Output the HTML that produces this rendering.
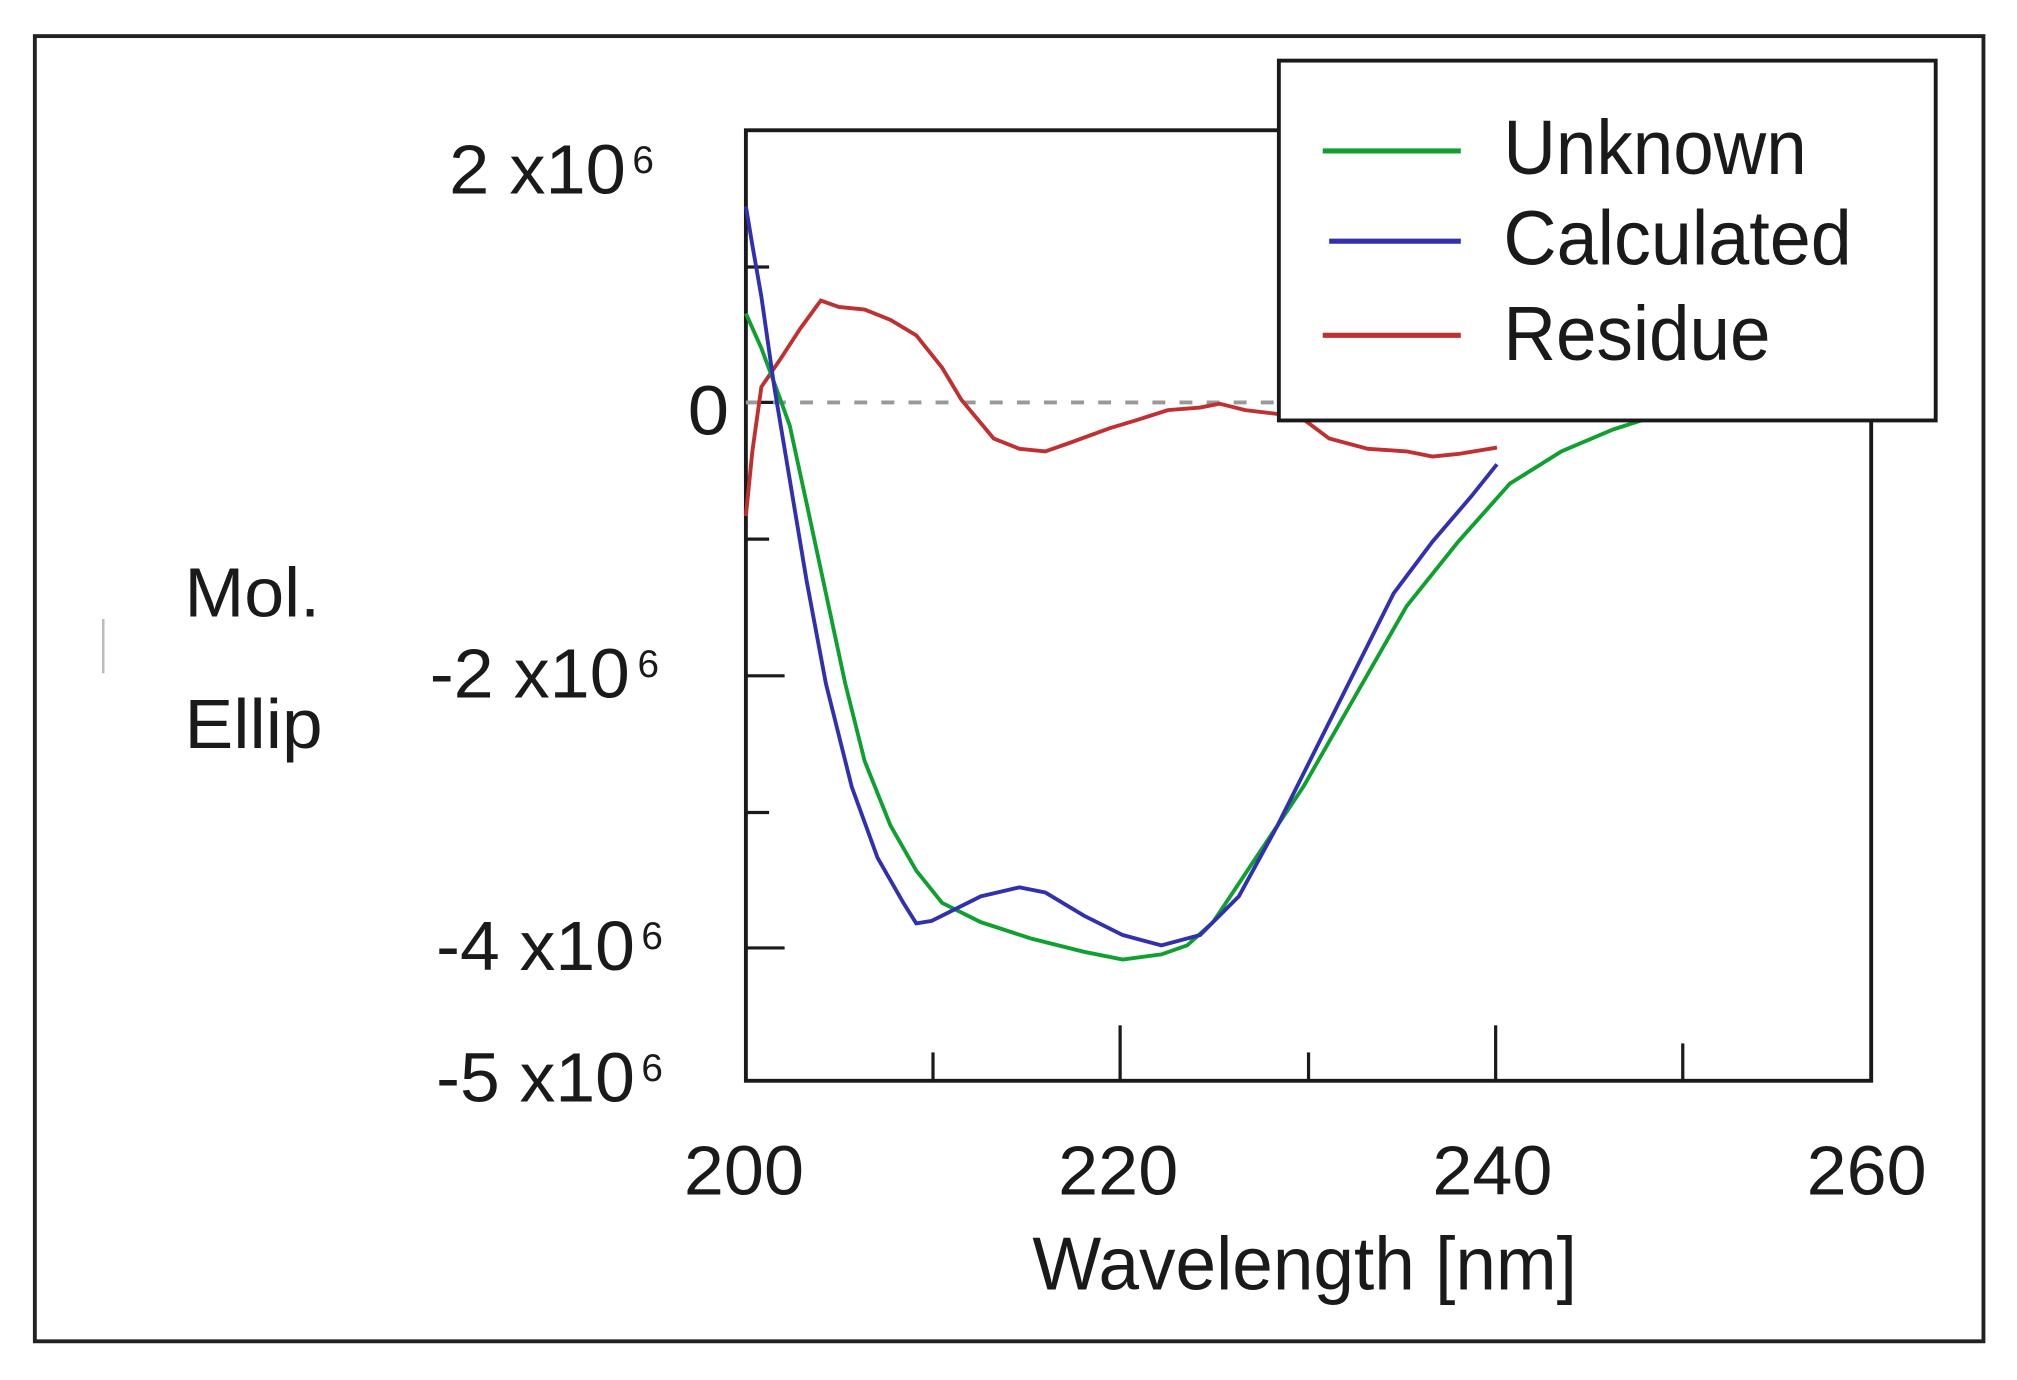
<!DOCTYPE html>
<html><head><meta charset="utf-8"><style>
html,body{margin:0;padding:0;background:#fff;}
svg{display:block;}
text{font-family:"Liberation Sans",Arial,sans-serif;fill:#1a1a1a;}
</style></head><body>
<svg width="2017" height="1380" viewBox="0 0 1563 1070" preserveAspectRatio="none" xmlns="http://www.w3.org/2000/svg">
<rect x="0" y="0" width="1563" height="1070" fill="#fff"/>
<rect x="27" y="28" width="1510" height="1012" fill="none" stroke="#222" stroke-width="3"/>
<line x1="80" y1="480" x2="80" y2="522" stroke="#bbb" stroke-width="2"/>
<rect x="578" y="101" width="872" height="737" fill="none" stroke="#1a1a1a" stroke-width="3"/>
<g stroke="#1a1a1a" stroke-width="2.5">
<line x1="578" y1="207" x2="596" y2="207"/>
<line x1="578" y1="312" x2="608" y2="312"/>
<line x1="578" y1="418" x2="596" y2="418"/>
<line x1="578" y1="524" x2="608" y2="524"/>
<line x1="578" y1="630" x2="596" y2="630"/>
<line x1="578" y1="735" x2="608" y2="735"/>
<line x1="723" y1="838" x2="723" y2="816"/>
<line x1="868" y1="838" x2="868" y2="795"/>
<line x1="1014" y1="838" x2="1014" y2="816"/>
<line x1="1159" y1="838" x2="1159" y2="795"/>
<line x1="1304" y1="838" x2="1304" y2="809"/>
</g>
<line x1="578" y1="312" x2="991" y2="312" stroke="#999" stroke-width="3" stroke-dasharray="10,11"/>
<polyline fill="none" stroke="#c03030" stroke-width="3" points="578,400 583,350 590,300 605,278 620,255 636,233 650,238 670,240 690,248 710,260 730,285 745,310 770,340 790,348 810,350 830,343 860,332 880,326 905,318 930,316 945,313 965,318 990,321 1010,325 1030,340 1060,348 1090,350 1110,354 1130,352 1160,347"/>
<polyline fill="none" stroke="#10a030" stroke-width="3" points="578,243 590,270 603,305 612,330 625,390 640,460 655,530 670,590 690,640 710,675 730,700 760,715 800,728 840,738 870,744 900,740 920,733 940,715 970,670 1010,610 1050,540 1090,470 1130,420 1170,375 1210,350 1250,333 1275,325"/>
<polyline fill="none" stroke="#3030b0" stroke-width="3" points="578,160 583,190 590,230 600,300 610,360 625,450 640,530 660,610 680,665 700,700 710,716 722,714 740,705 760,695 790,688 810,692 840,710 870,725 900,733 930,725 960,695 990,640 1020,580 1050,520 1080,460 1110,420 1140,385 1160,360"/>
<rect x="991" y="47" width="509" height="279" fill="#fff" stroke="#1a1a1a" stroke-width="3"/>
<line x1="1025" y1="117" x2="1132" y2="117" stroke="#10a030" stroke-width="4"/>
<line x1="1030" y1="187" x2="1132" y2="187" stroke="#3030b0" stroke-width="4"/>
<line x1="1025" y1="260" x2="1132" y2="260" stroke="#c03030" stroke-width="4"/>
<g font-size="60" lengthAdjust="spacingAndGlyphs">
<text x="1165" y="135" textLength="235" lengthAdjust="spacingAndGlyphs">Unknown</text>
<text x="1165" y="205" textLength="270" lengthAdjust="spacingAndGlyphs">Calculated</text>
<text x="1165" y="279" textLength="207" lengthAdjust="spacingAndGlyphs">Residue</text>
</g>
<g font-size="54">
<text x="348" y="150" textLength="137" lengthAdjust="spacingAndGlyphs">2 x10</text><text x="490" y="134" font-size="30">6</text>
<text x="533" y="337" textLength="32" lengthAdjust="spacingAndGlyphs">0</text>
<text x="333" y="541" textLength="155" lengthAdjust="spacingAndGlyphs">-2 x10</text><text x="494" y="525" font-size="30">6</text>
<text x="338" y="752" textLength="154" lengthAdjust="spacingAndGlyphs">-4 x10</text><text x="497" y="736" font-size="30">6</text>
<text x="338" y="854" textLength="154" lengthAdjust="spacingAndGlyphs">-5 x10</text><text x="497" y="838" font-size="30">6</text>
</g>
<g font-size="54">
<text x="143" y="478" textLength="105" lengthAdjust="spacingAndGlyphs">Mol.</text>
<text x="143" y="580" textLength="107" lengthAdjust="spacingAndGlyphs">Ellip</text>
<text x="530" y="926" textLength="93" lengthAdjust="spacingAndGlyphs">200</text>
<text x="820" y="926" textLength="93" lengthAdjust="spacingAndGlyphs">220</text>
<text x="1110" y="926" textLength="93" lengthAdjust="spacingAndGlyphs">240</text>
<text x="1400" y="926" textLength="93" lengthAdjust="spacingAndGlyphs">260</text>
<text x="800" y="1000" font-size="58" textLength="422" lengthAdjust="spacingAndGlyphs">Wavelength [nm]</text>
</g>
</svg>
</body></html>
